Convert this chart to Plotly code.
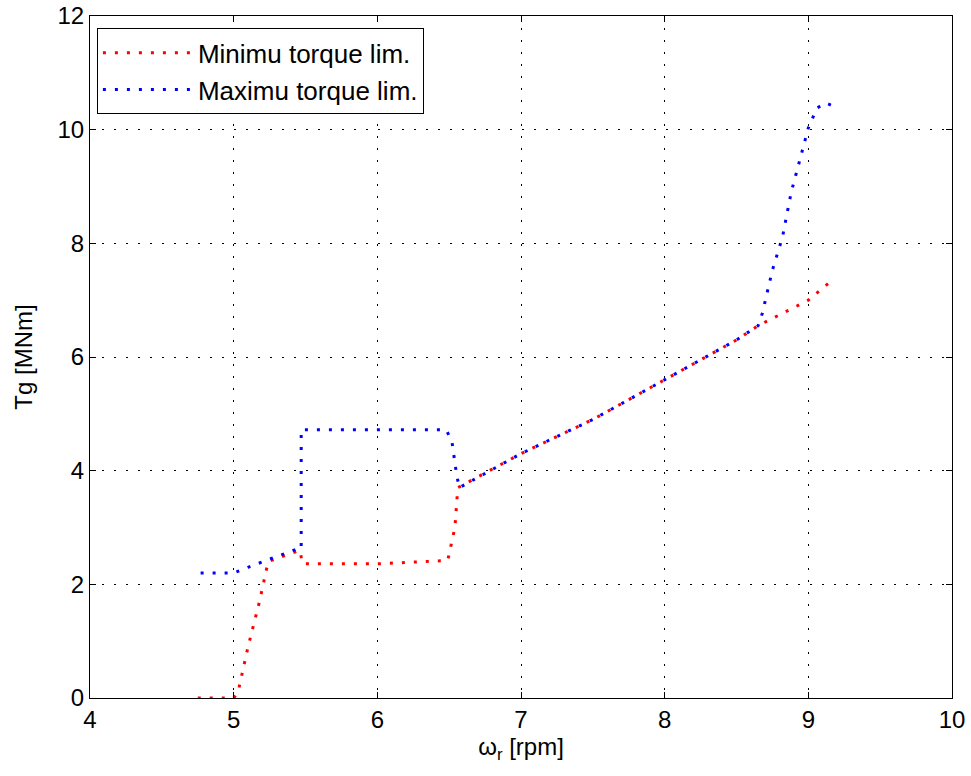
import plotly.graph_objects as go

# Minimum torque limit (red)
min_x = [4.75, 5.0, 5.03, 5.1, 5.18, 5.24, 5.35, 5.46, 5.48, 6.0, 6.49, 6.54, 6.56,
         7.0, 7.5, 8.0, 8.5, 8.65, 9.0, 9.17]
min_y = [0.0, 0.0, 0.1, 0.9, 1.7, 2.4, 2.5, 2.6, 2.36, 2.36, 2.42, 3.0, 3.7,
         4.3, 4.9, 5.6, 6.3, 6.55, 7.0, 7.36]

# Maximum torque limit (blue)
max_x = [4.77, 5.0, 5.1, 5.2, 5.3, 5.44, 5.47, 5.47, 6.0, 6.48, 6.52, 6.55, 6.57,
         7.0, 7.5, 8.0, 8.5, 8.65, 8.68, 8.75, 8.82, 8.88, 8.94, 9.0, 9.06, 9.12, 9.19]
max_y = [2.2, 2.2, 2.3, 2.4, 2.49, 2.62, 2.62, 4.72, 4.72, 4.72, 4.5, 3.96, 3.7,
         4.3, 4.9, 5.6, 6.3, 6.55, 6.77, 7.53, 8.11, 8.89, 9.47, 10.03, 10.38, 10.47, 10.4]

x_ticks = [4, 5, 6, 7, 8, 9, 10]
y_ticks = [0, 2, 4, 6, 8, 10, 12]

font_family = "Liberation Sans, Arial, sans-serif"
dot = "3px,9px"

fig = go.Figure()
fig.add_trace(go.Scatter(x=min_x, y=min_y, mode="lines", name="Minimu torque lim.",
                         line=dict(color="#ff0000", width=3, dash=dot)))
fig.add_trace(go.Scatter(x=max_x, y=max_y, mode="lines", name="Maximu torque lim.",
                         line=dict(color="#0000ff", width=3, dash=dot)))

axis_common = dict(
    showline=True, linecolor="black", linewidth=1, mirror="ticks",
    ticks="inside", ticklen=6, tickcolor="black", automargin=False,
    showgrid=True, gridcolor="black", gridwidth=1, griddash="2px,10px",
    zeroline=False, tickfont=dict(family=font_family, size=24, color="black"),
)

fig.update_xaxes(range=[4, 10], tickvals=x_ticks, ticktext=[str(v) for v in x_ticks],
                 title=dict(text="ω<sub>r</sub> [rpm]", font=dict(family=font_family, size=24, color="black"),
                            standoff=6),
                 **axis_common)
fig.update_yaxes(range=[0, 12], tickvals=y_ticks, ticktext=[str(v) for v in y_ticks],
                 title=dict(text="Tg [MNm]", font=dict(family=font_family, size=24, color="black"),
                            standoff=18),
                 **axis_common)

fig.update_layout(
    width=971, height=776,
    margin=dict(l=90, r=19, t=16, b=78),
    paper_bgcolor="white", plot_bgcolor="white",
    font=dict(family=font_family, color="black"),
    legend=dict(x=0.008, y=0.982, xanchor="left", yanchor="top",
                bgcolor="white", bordercolor="black", borderwidth=1,
                font=dict(family=font_family, size=26, color="black"),
                tracegroupgap=0, itemwidth=90),
    showlegend=True,
)

fig.write_html("out.html")
